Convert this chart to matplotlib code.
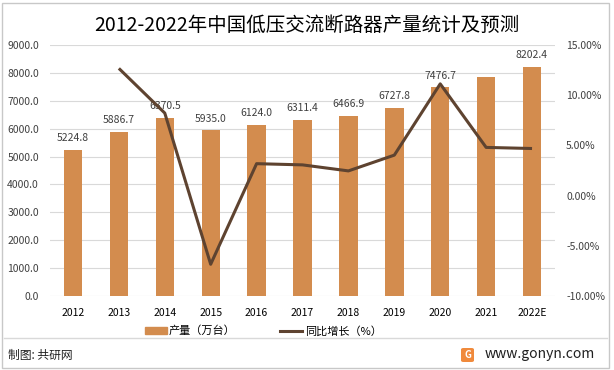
import matplotlib
matplotlib.use("Agg")
import matplotlib.pyplot as plt
from matplotlib.patches import Rectangle, FancyBboxPatch
from matplotlib.lines import Line2D
from matplotlib.ticker import FuncFormatter, MultipleLocator

plt.rcParams['font.family'] = ['Noto Sans CJK SC', 'DejaVu Sans']

years = ["2012", "2013", "2014", "2015", "2016", "2017", "2018", "2019", "2020", "2021", "2022E"]
output = [5224.8, 5886.7, 6370.5, 5935.0, 6124.0, 6311.4, 6466.9, 6727.8, 7476.7, 7835.0, 8202.4]
show_label = [True, True, True, True, True, True, True, True, True, False, True]
growth_years = ["2013", "2014", "2015", "2016", "2017", "2018", "2019", "2020", "2021", "2022E"]
growth = [12.67, 8.22, -6.84, 3.18, 3.06, 2.46, 4.03, 11.13, 4.80, 4.69]

title = "2012-2022年中国低压交流断路器产量统计及预测"
bar_name = "产量（万台）"
line_name = "同比增长（%）"
source = "制图: 共研网"
site = "www.gonyn.com"

BAR_C = "#D38C4E"
LINE_C = "#5E4330"
TXT_C = "#404040"

fig = plt.figure(figsize=(6.14, 3.70), dpi=100)
ax = fig.add_axes([50/614, 1-296/370, 505/614, 251/370])
x = list(range(len(years)))
ax.bar(x, output, width=0.4, color=BAR_C, zorder=2)
ax.set_xlim(-0.5, len(years)-0.5)
ax.set_ylim(0, 9000)
ax.yaxis.set_major_locator(MultipleLocator(1000))
ax.yaxis.set_major_formatter(FuncFormatter(lambda v, p: f"{v:.1f}"))
ax.grid(axis='y', color='#D9D9D9', lw=0.8, zorder=0)
ax.set_axisbelow(True)
for s in ax.spines.values():
    s.set_visible(False)
ax.set_xticks(x)
ax.set_xticklabels(years)
ax.tick_params(axis='x', length=0, pad=9, labelsize=7.5, labelcolor='black')
ax.tick_params(axis='y', length=0, pad=8, labelsize=7.5, labelcolor=TXT_C)
for xi, v, sl in zip(x, output, show_label):
    if sl:
        ax.annotate(f"{v:.1f}", (xi, v), xytext=(0, 5), textcoords='offset points',
                    ha='center', va='bottom', fontsize=7.5, color=TXT_C, zorder=3)

ax2 = ax.twinx()
gx = [years.index(y) for y in growth_years]
ax2.plot(gx, growth, color=LINE_C, lw=2.2, zorder=4, solid_capstyle='butt')
ax2.set_ylim(-10, 15)
ax2.yaxis.set_major_locator(MultipleLocator(5))
ax2.yaxis.set_major_formatter(FuncFormatter(lambda v, p: f"{v:.2f}%"))
ax2.tick_params(axis='y', length=0, pad=8, labelsize=7.5, labelcolor=TXT_C)
for s in ax2.spines.values():
    s.set_visible(False)

fig.text(307/614, 1-25/370, title, ha='center', va='center', fontsize=14, color='black')

# legend
handles = [Rectangle((0, 0), 1, 1, color=BAR_C), Line2D([0], [0], color=LINE_C, lw=2.2)]
fig.legend(handles, [bar_name, line_name], loc='center', bbox_to_anchor=(263/614, 1-331/370),
           ncol=2, frameon=False, fontsize=8, handlelength=2.0, handleheight=0.6,
           handletextpad=0.2, columnspacing=4.0)

# separator and border
fig.add_artist(Line2D([4/614, 607/614], [1-338/370, 1-338/370], color='#D9D9D9', lw=1))
fig.add_artist(Rectangle((2/614, 2/370), 607/614, 365/370, fill=False, ec='#C8C8C8', lw=1))

fig.text(8/614, 1-355/370, source, ha='left', va='center', fontsize=8.5, color='#202020',
         fontweight='medium')
fig.add_artist(FancyBboxPatch((461/614, 1-362/370), 13/614, 14/370,
                              boxstyle='round,pad=0.0,rounding_size=0.004',
                              fc='#F08A3C', ec='none'))
fig.text(467.5/614, 1-355/370, "G", ha='center', va='center', fontsize=7, color='white',
         fontweight='bold')
fig.text(485/614, 1-354/370, site, ha='left', va='center', fontsize=10, color='#202020')

fig.savefig("out.png", dpi=100)
